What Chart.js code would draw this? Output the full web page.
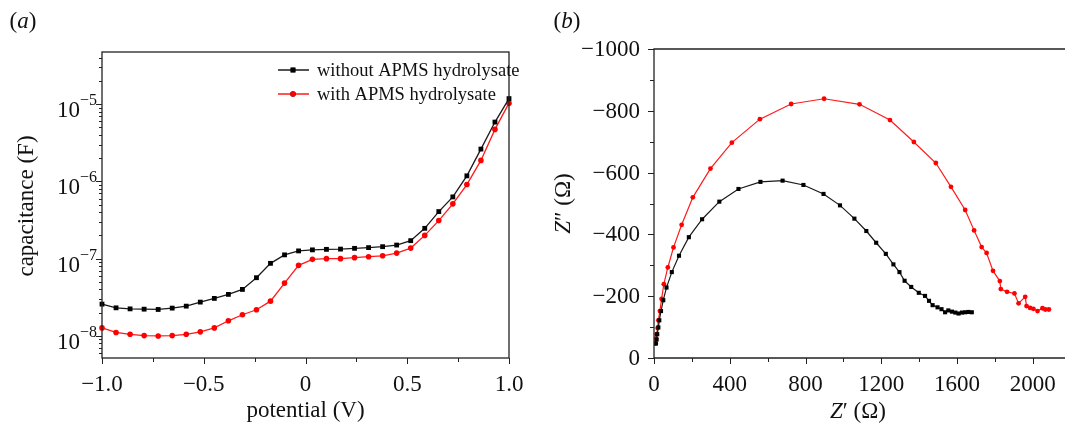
<!DOCTYPE html>
<html>
<head>
<meta charset="utf-8">
<script src="https://cdn.jsdelivr.net/npm/chart.js@4.4.1/dist/chart.umd.min.js"></script>
<style>
  html, body { margin: 0; padding: 0; background: #fff; }
  #wrap { position: relative; width: 1069px; height: 426px; overflow: hidden; }
  .panel { position: absolute; top: 0; height: 426px; }
  #left { left: 0; width: 540px; }
  #right { left: 540px; width: 529px; }
</style>
</head>
<body>
<div id="wrap">
  <div class="panel" id="left"><canvas id="capChart"></canvas></div>
  <div class="panel" id="right"><canvas id="nyqChart"></canvas></div>
</div>
<script>
// ---- (a) capacitance vs potential ----
const potential = [-1.000, -0.931, -0.862, -0.793, -0.724, -0.655, -0.586, -0.517, -0.448, -0.379,
                   -0.310, -0.241, -0.172, -0.103, -0.034, 0.034, 0.103, 0.172, 0.241, 0.310,
                   0.379, 0.448, 0.517, 0.586, 0.655, 0.724, 0.793, 0.862, 0.931, 1.000];
const capWithout = [2.58e-8, 2.31e-8, 2.24e-8, 2.22e-8, 2.20e-8, 2.29e-8, 2.43e-8, 2.74e-8, 3.06e-8, 3.45e-8,
                    4.00e-8, 5.67e-8, 8.70e-8, 1.12e-7, 1.26e-7, 1.30e-7, 1.32e-7, 1.33e-7, 1.36e-7, 1.39e-7,
                    1.43e-7, 1.50e-7, 1.71e-7, 2.47e-7, 4.07e-7, 6.30e-7, 1.18e-6, 2.62e-6, 5.86e-6, 1.18e-5];
const capWith = [1.27e-8, 1.11e-8, 1.05e-8, 1.01e-8, 1.00e-8, 1.01e-8, 1.05e-8, 1.13e-8, 1.27e-8, 1.57e-8,
                 1.88e-8, 2.18e-8, 2.82e-8, 4.83e-8, 8.20e-8, 9.80e-8, 1.00e-7, 1.00e-7, 1.03e-7, 1.06e-7,
                 1.09e-7, 1.18e-7, 1.37e-7, 2.00e-7, 3.11e-7, 5.12e-7, 9.10e-7, 1.87e-6, 4.71e-6, 1.03e-5];
const capDecades = [-8, -7, -6, -5];
const potentialTicks = [-1, -0.5, 0, 0.5, 1];
const seriesNames = ['without APMS hydrolysate', 'with APMS hydrolysate'];

// ---- (b) Nyquist plot ----
const zReWithout = [10, 14, 17, 23, 28, 37, 49, 66, 94, 132, 184, 254, 345, 446, 562, 679, 789, 895, 982, 1058,
                    1121, 1173, 1224, 1264, 1296, 1323, 1358, 1398, 1431, 1452, 1471, 1497, 1518, 1537, 1554,
                    1573, 1591, 1608, 1626, 1643, 1660, 1678];
const zImWithout = [-47, -60, -77, -99, -122, -152, -187, -228, -278, -331, -391, -449, -506, -547, -570, -574,
                    -560, -531, -494, -451, -411, -373, -337, -303, -278, -250, -230, -211, -201, -185, -171,
                    -164, -158, -148, -154, -150, -147, -144, -147, -148, -149, -148];
const zReWith = [9, 10, 14, 19, 23, 31, 40, 52, 73, 103, 146, 205, 298, 411, 559, 724, 898, 1085, 1246, 1372,
                 1488, 1568, 1643, 1690, 1730, 1756, 1790, 1826, 1831, 1864, 1903, 1925, 1960, 1967, 1986,
                 2003, 2025, 2051, 2066, 2085];
const zImWith = [-47, -63, -77, -97, -122, -152, -191, -239, -293, -358, -431, -520, -613, -697, -773, -822,
                 -839, -821, -770, -699, -631, -554, -479, -413, -359, -340, -282, -249, -223, -214, -209,
                 -177, -198, -168, -162, -159, -152, -161, -157, -157];
const zReTicks = [0, 400, 800, 1200, 1600, 2000];
const zImTicks = [0, -200, -400, -600, -800, -1000];

const SERIF = '"Liberation Serif", "Times New Roman", serif';
const AXIS = '#222';
const MINUS = '\u2212';

function pairs(xs, ys) {
  return xs.map((x, i) => ({ x: x, y: ys[i] }));
}

// tick marks pointing out of the plot
function tickMarks(ctx, scale, values, len) {
  ctx.beginPath();
  values.forEach(v => {
    const p = Math.round(scale.getPixelForValue(v)) + 0.5;
    if (scale.isHorizontal()) {
      ctx.moveTo(p, scale.top); ctx.lineTo(p, scale.top + len);
    } else {
      ctx.moveTo(scale.right, p); ctx.lineTo(scale.right - len, p);
    }
  });
  ctx.stroke();
}

// draw a run of [text, italic] pieces centred on x
function mixedText(ctx, parts, x, y, size) {
  let total = 0;
  parts.forEach(p => {
    ctx.font = (p[1] ? 'italic ' : '') + size + 'px ' + SERIF;
    total += ctx.measureText(p[0]).width;
  });
  let cx = x - total / 2;
  ctx.textAlign = 'left';
  ctx.textBaseline = 'middle';
  parts.forEach(p => {
    ctx.font = (p[1] ? 'italic ' : '') + size + 'px ' + SERIF;
    ctx.fillText(p[0], cx, y);
    cx += ctx.measureText(p[0]).width;
  });
}

function fmtSigned(v, digits) {
  const s = digits ? Math.abs(v).toFixed(digits) : String(Math.abs(v));
  if (v === 0) return '0';
  return (v < 0 ? MINUS : '') + s;
}

const capDecorations = {
  id: 'capDecorations',
  afterDraw(chart) {
    const ctx = chart.ctx, a = chart.chartArea;
    const xs = chart.scales.x, ys = chart.scales.y;
    ctx.save();
    ctx.strokeStyle = AXIS; ctx.fillStyle = '#111'; ctx.lineWidth = 1.3;
    ctx.strokeRect(a.left, a.top, a.right - a.left, a.bottom - a.top);

    ctx.lineWidth = 1;
    tickMarks(ctx, xs, potentialTicks, 6);
    tickMarks(ctx, xs, [-0.75, -0.25, 0.25, 0.75], 4);
    tickMarks(ctx, ys, capDecades.map(d => Math.pow(10, d)), 6);
    const minor = [];
    [-9, -8, -7, -6, -5].forEach(d => {
      for (let k = 2; k <= 9; k++) {
        const v = k * Math.pow(10, d);
        if (v > ys.min && v < ys.max) minor.push(v);
      }
    });
    tickMarks(ctx, ys, minor, 3);

    // x tick labels
    ctx.font = '23px ' + SERIF;
    ctx.textAlign = 'center'; ctx.textBaseline = 'middle';
    potentialTicks.forEach(v => {
      ctx.fillText(fmtSigned(v, v === 0 ? 0 : 1), xs.getPixelForValue(v), 385);
    });

    // y tick labels 10^n
    capDecades.forEach(d => {
      const y = ys.getPixelForValue(Math.pow(10, d));
      const sup = MINUS + Math.abs(d);
      ctx.font = '16px ' + SERIF;
      const sw = ctx.measureText(sup).width;
      ctx.textAlign = 'left'; ctx.textBaseline = 'alphabetic';
      const right = a.left - 5;
      ctx.fillText(sup, right - sw, y + 1);
      ctx.font = '23px ' + SERIF;
      const bw = ctx.measureText('10').width;
      ctx.fillText('10', right - sw - bw, y + 13);
    });

    // axis titles
    mixedText(ctx, [['potential (V)', false]], (a.left + a.right) / 2, 411, 23);
    ctx.save();
    ctx.translate(27, (a.top + a.bottom) / 2 + 1);
    ctx.rotate(-Math.PI / 2);
    mixedText(ctx, [['capacitance (F)', false]], 0, 0, 23);
    ctx.restore();

    // panel label
    mixedText(ctx, [['(', false], ['a', true], [')', false]], 23, 22, 23);

    // legend
    chart.data.datasets.forEach((ds, i) => {
      const ly = 70 + i * 24;
      ctx.strokeStyle = ds.borderColor; ctx.lineWidth = 1.5;
      ctx.beginPath(); ctx.moveTo(278, ly); ctx.lineTo(309, ly); ctx.stroke();
      Chart.helpers.drawPoint(ctx, { pointStyle: ds.pointStyle, radius: ds.pointRadius, borderWidth: 0, rotation: 0 }, 293, ly);
      ctx.fillStyle = ds.pointBackgroundColor; ctx.fill();
      ctx.fillStyle = '#111';
      ctx.font = '18.5px ' + SERIF;
      ctx.textAlign = 'left'; ctx.textBaseline = 'middle';
      ctx.fillText(seriesNames[i], 317, ly + 1);
    });
    ctx.restore();
  }
};

const nyqDecorations = {
  id: 'nyqDecorations',
  afterDraw(chart) {
    const ctx = chart.ctx, a = chart.chartArea;
    const xs = chart.scales.x, ys = chart.scales.y;
    ctx.save();
    ctx.strokeStyle = AXIS; ctx.fillStyle = '#111'; ctx.lineWidth = 1.3;
    ctx.beginPath();
    ctx.moveTo(a.right, a.top); ctx.lineTo(a.left, a.top);
    ctx.lineTo(a.left, a.bottom); ctx.lineTo(a.right, a.bottom);
    ctx.stroke();

    ctx.lineWidth = 1;
    tickMarks(ctx, xs, zReTicks, 6);
    tickMarks(ctx, xs, [200, 600, 1000, 1400, 1800], 4);
    tickMarks(ctx, ys, zImTicks, 6);
    tickMarks(ctx, ys, [-100, -300, -500, -700, -900], 4);

    ctx.font = '23px ' + SERIF;
    ctx.textAlign = 'center'; ctx.textBaseline = 'middle';
    zReTicks.forEach(v => ctx.fillText(String(v), xs.getPixelForValue(v), 385));
    ctx.textAlign = 'right';
    zImTicks.forEach(v => ctx.fillText(fmtSigned(v, 0), a.left - 14, ys.getPixelForValue(v) + 1));

    mixedText(ctx, [['Z', true], ['\u2032 (\u03A9)', false]], 318, 412, 23);
    ctx.save();
    ctx.translate(24, (a.top + a.bottom) / 2);
    ctx.rotate(-Math.PI / 2);
    mixedText(ctx, [['Z', true], ['\u2033 (\u03A9)', false]], 0, 0, 23);
    ctx.restore();

    mixedText(ctx, [['(', false], ['b', true], [')', false]], 27, 22, 23);
    ctx.restore();
  }
};

const hiddenScale = {
  grid: { display: false },
  border: { display: false },
  ticks: { display: false }
};

new Chart(document.getElementById('capChart'), {
  type: 'line',
  data: {
    datasets: [{
      label: seriesNames[0],
      data: pairs(potential, capWithout),
      borderColor: '#1a1a1a', borderWidth: 1.3,
      pointStyle: 'rect', pointRadius: 3.4,
      pointBackgroundColor: '#000', pointBorderWidth: 0,
      clip: 4
    }, {
      label: seriesNames[1],
      data: pairs(potential, capWith),
      borderColor: '#ff1a1a', borderWidth: 1.3,
      pointStyle: 'circle', pointRadius: 2.8,
      pointBackgroundColor: '#ff0000', pointBorderWidth: 0,
      clip: 4
    }]
  },
  options: {
    responsive: true,
    maintainAspectRatio: false,
    animation: false,
    layout: { padding: { left: 0, top: 52, right: 31, bottom: 0 } },
    plugins: { legend: { display: false }, tooltip: { enabled: false } },
    scales: {
      x: Object.assign({ type: 'linear', min: -1, max: 1,
        afterFit: s => { s.height = 68; } }, hiddenScale),
      y: Object.assign({ type: 'logarithmic', min: 5.18e-9, max: 4.73e-5,
        afterFit: s => { s.width = 102; } }, hiddenScale)
    }
  },
  plugins: [capDecorations]
});

new Chart(document.getElementById('nyqChart'), {
  type: 'scatter',
  data: {
    datasets: [{
      label: seriesNames[0],
      data: pairs(zReWithout, zImWithout),
      showLine: true,
      borderColor: '#1a1a1a', borderWidth: 1.2,
      pointStyle: 'rect', pointRadius: 2.9,
      pointBackgroundColor: '#000', pointBorderWidth: 0
    }, {
      label: seriesNames[1],
      data: pairs(zReWith, zImWith),
      showLine: true,
      borderColor: '#ff1a1a', borderWidth: 1.2,
      pointStyle: 'circle', pointRadius: 2.4,
      pointBackgroundColor: '#ff0000', pointBorderWidth: 0
    }]
  },
  options: {
    responsive: true,
    maintainAspectRatio: false,
    animation: false,
    layout: { padding: { left: 0, top: 49, right: 0, bottom: 0 } },
    plugins: { legend: { display: false }, tooltip: { enabled: false } },
    scales: {
      x: Object.assign({ type: 'linear', min: 0, max: 2170,
        afterFit: s => { s.height = 68; } }, hiddenScale),
      y: Object.assign({ type: 'linear', min: -1000, max: 0, reverse: true,
        afterFit: s => { s.width = 114; } }, hiddenScale)
    }
  },
  plugins: [nyqDecorations]
});
</script>
</body>
</html>
